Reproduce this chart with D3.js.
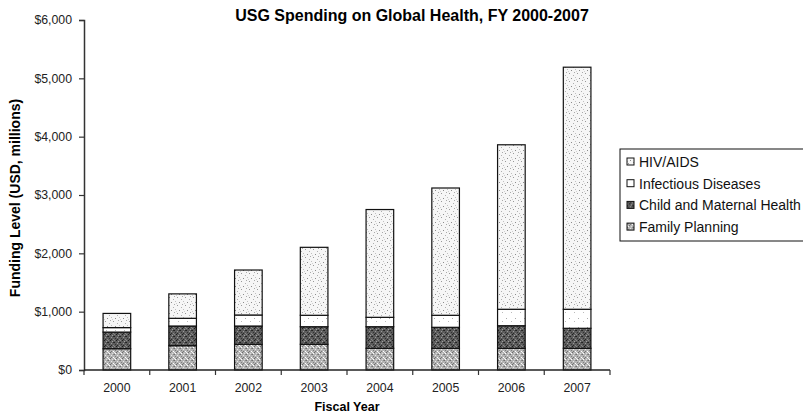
<!DOCTYPE html>
<html>
<head>
<meta charset="utf-8">
<script src="https://cdn.jsdelivr.net/npm/d3@7"></script>
<style>
  body { margin: 0; background: #fff; }
  svg { font-family: "Liberation Sans", Arial, sans-serif; }
</style>
</head>
<body>
<svg id="chart" width="803" height="415"></svg>
<script>
var svg = d3.select("#chart"),
    width = +svg.attr("width"), height = +svg.attr("height")
var margin = {left: 84, right: 193, top: 20, bottom: 45}

// Data (USD millions)
var years = ["2000","2001","2002","2003","2004","2005","2006","2007"]
var familyPlanning = [365, 417, 441, 441, 372, 372, 372, 372]
var childMaternal  = [285, 337, 313, 301, 370, 360, 387, 343]
var infectious     = [ 77, 132, 189, 196, 161, 206, 282, 326]
var hivAids        = [243, 419, 771, 1165, 1848, 2182, 2820, 4150]
var seriesNames = ["Family Planning", "Child and Maternal Health", "Infectious Diseases", "HIV/AIDS"]
var yTicks = [0, 1000, 2000, 3000, 4000, 5000, 6000]

var table = years.map(function(y, i) {
    return {year: y, "Family Planning": familyPlanning[i], "Child and Maternal Health": childMaternal[i],
            "Infectious Diseases": infectious[i], "HIV/AIDS": hivAids[i]}
})
var stacked = d3.stack().keys(seriesNames)(table)

// Patterns (stipple fills like the original)
var defs = svg.append("defs")
function makePattern(id, bg, dots, size) {
    var p = defs.append("pattern").attr("id", id).attr("patternUnits", "userSpaceOnUse")
        .attr("width", size).attr("height", size)
    p.append("rect").attr("width", size).attr("height", size).attr("fill", bg)
    dots.forEach(function(d) {
        p.append("rect").attr("x", d[0]).attr("y", d[1]).attr("width", 1).attr("height", 1).attr("fill", d[2])
    })
}
makePattern("fp", "#b4b4b4", [[0,0,"#707070"],[3,1,"#e8e8e8"],[1,2,"#808080"],[5,3,"#ffffff"],[2,4,"#6a6a6a"],[4,5,"#dcdcdc"],[5,0,"#888"],[0,4,"#eee"],[3,3,"#777"],[1,5,"#fff"]], 6)
makePattern("cmh", "#5c5c5c", [[0,0,"#222"],[3,1,"#999"],[1,2,"#333"],[5,3,"#8a8a8a"],[2,4,"#1e1e1e"],[4,5,"#a0a0a0"],[5,0,"#2a2a2a"],[0,4,"#888"],[3,3,"#282828"]], 6)
makePattern("id", "#ffffff", [[2,3,"#aaa"],[7,6,"#bbb"]], 9)
makePattern("hiv", "#f6f6f6", [[1,1,"#999"],[5,3,"#b0b0b0"],[3,6,"#8c8c8c"],[7,5,"#c0c0c0"],[0,7,"#d0d0d0"],[6,0,"#aaa"]], 8)
var fills = {"Family Planning": "url(#fp)", "Child and Maternal Health": "url(#cmh)",
             "Infectious Diseases": "url(#id)", "HIV/AIDS": "url(#hiv)"}

// Scales
var x = d3.scaleBand().domain(years).range([margin.left, width - margin.right]).paddingInner(0.58).paddingOuter(0.29)
var y = d3.scaleLinear().domain([0, 6000]).range([height - margin.bottom, margin.top])
var xb = d3.scaleLinear().domain([0, years.length]).range([margin.left, width - margin.right])

// Bars
svg.append("g").selectAll("g").data(stacked).enter().append("g")
    .attr("fill", function(d) { return fills[d.key] })
    .selectAll("rect").data(function(d) { return d }).enter().append("rect")
    .attr("x", function(d) { return x(d.data.year) })
    .attr("y", function(d) { return y(d[1]) })
    .attr("width", x.bandwidth())
    .attr("height", function(d) { return y(d[0]) - y(d[1]) })
    .attr("stroke", "#111").attr("stroke-width", 1.2)

// Y axis
var yAxis = svg.append("g").attr("transform", "translate(" + margin.left + ",0)")
    .call(d3.axisLeft(y).tickValues(yTicks).tickFormat(d3.format("$,")).tickSizeOuter(0).tickSize(5).tickPadding(7))
yAxis.select(".domain").attr("stroke", "#333").attr("stroke-width", 1.5)
yAxis.selectAll(".tick line").attr("stroke", "#333").attr("stroke-width", 1.2)
yAxis.selectAll("text").attr("font-size", 12.3).attr("fill", "#222")

// X axis: ticks between categories
var xAxis = svg.append("g").attr("transform", "translate(0," + y(0) + ")")
xAxis.append("line").attr("x1", margin.left).attr("x2", width - margin.right)
    .attr("stroke", "#222").attr("stroke-width", 1.5)
xAxis.selectAll(".bt").data(d3.range(years.length + 1)).enter().append("line")
    .attr("x1", function(d) { return xb(d) }).attr("x2", function(d) { return xb(d) })
    .attr("y1", 0).attr("y2", 5).attr("stroke", "#333").attr("stroke-width", 1.2)
xAxis.selectAll(".yl").data(years).enter().append("text")
    .attr("x", function(d) { return x(d) + x.bandwidth() / 2 }).attr("y", 22)
    .attr("text-anchor", "middle").attr("font-size", 12.3).attr("fill", "#222")
    .text(function(d) { return d })

// Titles
svg.append("text").attr("x", 412).attr("y", 21).attr("text-anchor", "middle")
    .attr("font-size", 16).attr("font-weight", "bold").text("USG Spending on Global Health, FY 2000-2007")
svg.append("text").attr("transform", "translate(20,198) rotate(-90)").attr("text-anchor", "middle")
    .attr("font-size", 14).attr("font-weight", "bold").text("Funding Level (USD, millions)")
svg.append("text").attr("x", 347).attr("y", 411).attr("text-anchor", "middle")
    .attr("font-size", 12.5).attr("font-weight", "bold").text("Fiscal Year")

// Legend
var legend = svg.append("g").attr("transform", "translate(620,149)")
legend.append("rect").attr("width", 230).attr("height", 92)
    .attr("fill", "#fff").attr("stroke", "#111").attr("stroke-width", 1)
var legendOrder = seriesNames.slice().reverse()
var li = legend.selectAll(".li").data(legendOrder).enter().append("g")
    .attr("transform", function(d, i) { return "translate(7," + (13 + i * 21.7) + ")" })
li.append("rect").attr("x", 0).attr("y", -4).attr("width", 7).attr("height", 7)
    .attr("fill", function(d) { return fills[d] }).attr("stroke", "#111").attr("stroke-width", 1)
li.append("text").attr("x", 12).attr("y", 5).attr("font-size", 14).attr("fill", "#111")
    .text(function(d) { return d })
</script>
</body>
</html>
